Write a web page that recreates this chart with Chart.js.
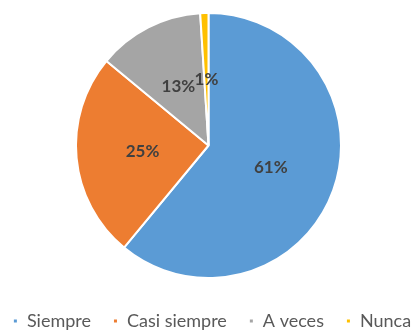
<!DOCTYPE html>
<html>
<head>
<meta charset="utf-8">
<script src="https://cdn.jsdelivr.net/npm/chart.js@4/dist/chart.umd.min.js"></script>
<style>
  html, body { margin: 0; padding: 0; background: #fff; }
  #wrap { width: 411px; height: 331px; }
</style>
</head>
<body>
<div id="wrap"><canvas id="pie"></canvas></div>
<script>
const categories = ["Siempre", "Casi siempre", "A veces", "Nunca"];
const percentages = [61, 25, 13, 1];
const sliceColors = ["#5B9BD5", "#ED7D31", "#A5A5A5", "#FFC000"];

// percentage text in the middle of each slice
const sliceLabels = {
    id: "sliceLabels",
    afterDatasetsDraw(chart) {
        const ctx = chart.ctx
        const meta = chart.getDatasetMeta(0)
        ctx.save()
        ctx.font = "bold 17px Lato"
        ctx.fillStyle = "#404040"
        ctx.textAlign = "center"
        ctx.textBaseline = "middle"
        meta.data.forEach((arc, i) => {
            const { x, y } = arc.tooltipPosition()
            ctx.fillText(percentages[i] + "%", x, y)
        })
        ctx.restore()
    }
}

// keep the wide-spaced legend on a single row at the very bottom
const legendRow = {
    id: "legendRow",
    afterInit(chart) {
        const legend = chart.legend
        const fit = legend.fit
        legend.fit = function () {
            const maxWidth = this.maxWidth
            this.maxWidth = maxWidth + 80
            fit.call(this)
            this.maxWidth = maxWidth
            this.width = maxWidth
            this.height = 41
        }
    },
    afterLayout(chart) {
        chart.legend.left -= 33
        chart.legend.right += 40
    }
}

new Chart(document.getElementById("pie"), {
    type: "pie",
    data: {
        labels: categories,
        datasets: [{
            data: percentages,
            backgroundColor: sliceColors,
            borderColor: "#ffffff",
            borderWidth: 2,
            radius: 132.5
        }]
    },
    options: {
        responsive: true,
        maintainAspectRatio: false,
        animation: false,
        layout: {
            padding: { top: 1, left: 6, right: 0, bottom: 0 }
        },
        plugins: {
            legend: {
                display: true,
                position: "bottom",
                labels: {
                    boxWidth: 5,
                    boxHeight: 5,
                    padding: 22,
                    color: "#595959",
                    font: { family: "Lato", size: 18 }
                }
            },
            tooltip: { enabled: false }
        }
    },
    plugins: [sliceLabels, legendRow]
})
</script>
</body>
</html>
